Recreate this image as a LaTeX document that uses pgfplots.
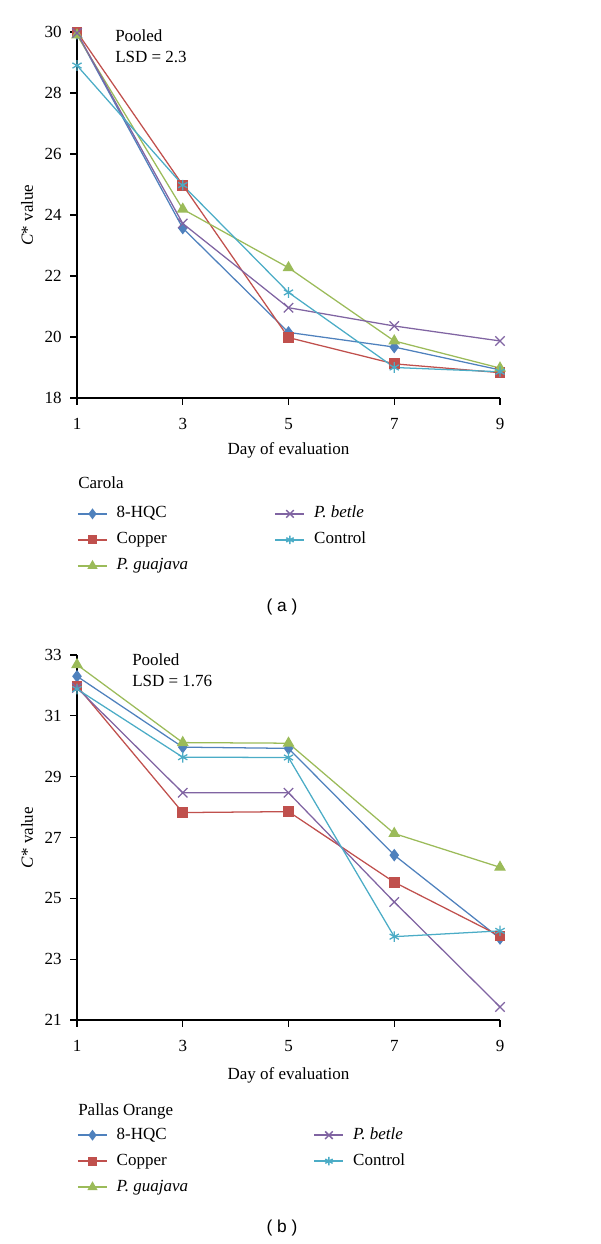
\documentclass[border=0pt]{standalone}
\usepackage{fontspec}
\setmainfont{Liberation Serif}
\newfontfamily\capfont{Liberation Sans}
\usepackage{pgfplots}
\usepackage{pgfplotstable}
\pgfplotsset{compat=1.18}

\definecolor{c1}{HTML}{4F81BD}
\definecolor{c2}{HTML}{C0504D}
\definecolor{c3}{HTML}{9BBB59}
\definecolor{c4}{HTML}{8064A2}
\definecolor{c5}{HTML}{4BACC6}

\pgfplotstableread{
day hqc cu gua bet ctl
1 29.95 30.00 29.90 29.97 28.90
3 23.57 24.98 24.19 23.72 24.98
5 20.15 19.98 22.27 20.96 21.46
7 19.67 19.12 19.87 20.36 19.00
9 18.92 18.83 18.98 19.87 18.86
}\tabA

\pgfplotstableread{
day hqc cu gua bet ctl
1 32.30 31.98 32.68 31.92 31.88
3 29.97 27.82 30.12 28.47 29.64
5 29.93 27.85 30.10 28.47 29.63
7 26.42 25.53 27.13 24.88 23.74
9 23.68 23.76 26.02 21.43 23.93
}\tabB

\newcommand{\fs}{\fontsize{12.75}{15}\selectfont}

\pgfplotsset{
  panel/.style={
    scale only axis, width=317.25pt,
    axis lines=left, axis line style={-, line width=0.9pt, black},
    xmin=1, xmax=9, xtick={1,3,5,7,9},
    tick align=outside, major tick length=5pt,
    tick style={line width=0.9pt, black},
    ticklabel style={font=\fs},
    xticklabel shift=6.5pt,
    yticklabel shift=3pt,
    /pgf/number format/assume math mode=true,
    label style={font=\fs},
    xlabel={Day of evaluation},
    ylabel={\textit{C}* value},
    ylabel style={at={(axis description cs:-0.118,0.5)}, anchor=center},
    legend columns=2,
    legend style={draw=none, fill=none, inner sep=0pt, font=\fs,
      nodes={inner sep=0pt, text height=9pt, text depth=3pt, anchor=west},
      row sep=7.5pt,
      /tikz/every odd column/.append style={column sep=6.75pt},
      anchor=north west},
    legend image code/.code={\draw[mark repeat=2,mark phase=2,#1, line width=1.1pt, every mark/.append style={scale=0.8}]
      plot coordinates {(0pt,0pt)(10.875pt,0pt)(21.75pt,0pt)};},
    clip=false,
  },
  hqc/.style={color=c1, line width=0.95pt, mark=diamond*, mark size=4pt, mark options={solid, fill=c1}},
  cu/.style={color=c2, line width=0.95pt, mark=square*, mark size=3.6pt, mark options={solid, fill=c2}},
  gua/.style={color=c3, line width=0.95pt, mark=triangle*, mark size=4.2pt, mark options={solid, fill=c3}},
  bet/.style={color=c4, line width=0.95pt, mark=x, mark size=5pt, mark options={solid}},
  ctl/.style={color=c5, line width=0.95pt, mark=asterisk, mark size=4pt, mark options={solid}},
}

\begin{document}
\begin{tikzpicture}
\useasboundingbox (0,0) rectangle (450pt,933pt);

% ---------- panel (a) ----------
\begin{axis}[panel,
  at={(57.75pt,634.5pt)}, anchor=south west,
  height=274.5pt, ymin=18, ymax=30, ytick={18,20,...,30},
  xlabel style={at={(axis description cs:0.5,-0.1421)}, anchor=center},
  legend style={at={(axis description cs:0,-0.294)}},
]
\addplot[hqc, forget plot] table[x=day,y=hqc]{\tabA};
\addplot[cu, forget plot] table[x=day,y=cu]{\tabA};
\addplot[gua, forget plot] table[x=day,y=gua]{\tabA};
\addplot[bet, forget plot] table[x=day,y=bet]{\tabA};
\addplot[ctl, forget plot] table[x=day,y=ctl]{\tabA};
\addlegendimage{hqc}\addlegendentry{\makebox[118.5pt][l]{8-HQC}}
\addlegendimage{bet}\addlegendentry{\textit{P. betle}}
\addlegendimage{cu}\addlegendentry{\makebox[118.5pt][l]{Copper}}
\addlegendimage{ctl}\addlegendentry{Control}
\addlegendimage{gua}\addlegendentry{\makebox[118.5pt][l]{\textit{P. guajava}}}
\node[anchor=base west, font=\fs, inner sep=0pt, xshift=28.5pt, yshift=267pt] at (rel axis cs:0,0) {Pooled};
\node[anchor=base west, font=\fs, inner sep=0pt, xshift=28.5pt, yshift=251.25pt] at (rel axis cs:0,0) {LSD = 2.3};
\node[anchor=base west, font=\fs, inner sep=0pt, xshift=0.75pt, yshift=-68.25pt] at (rel axis cs:0,0) {Carola};
\node[anchor=center, font=\capfont\fontsize{13}{15}\selectfont, xshift=153.75pt, yshift=-156.75pt] at (rel axis cs:0,0) {( a )};
\end{axis}

% ---------- panel (b) ----------
\begin{axis}[panel,
  at={(57.75pt,168pt)}, anchor=south west,
  height=273.75pt, ymin=21, ymax=33, ytick={21,23,...,33},
  xlabel style={at={(axis description cs:0.5,-0.153)}, anchor=center},
  legend style={at={(axis description cs:0,-0.293)}},
]
\addplot[hqc, forget plot] table[x=day,y=hqc]{\tabB};
\addplot[cu, forget plot] table[x=day,y=cu]{\tabB};
\addplot[gua, forget plot] table[x=day,y=gua]{\tabB};
\addplot[bet, forget plot] table[x=day,y=bet]{\tabB};
\addplot[ctl, forget plot] table[x=day,y=ctl]{\tabB};
\addlegendimage{hqc}\addlegendentry{\makebox[147.75pt][l]{8-HQC}}
\addlegendimage{bet}\addlegendentry{\textit{P. betle}}
\addlegendimage{cu}\addlegendentry{\makebox[147.75pt][l]{Copper}}
\addlegendimage{ctl}\addlegendentry{Control}
\addlegendimage{gua}\addlegendentry{\makebox[147.75pt][l]{\textit{P. guajava}}}
\node[anchor=base west, font=\fs, inner sep=0pt, xshift=41.25pt, yshift=265.5pt] at (rel axis cs:0,0) {Pooled};
\node[anchor=base west, font=\fs, inner sep=0pt, xshift=41.25pt, yshift=249.75pt] at (rel axis cs:0,0) {LSD = 1.76};
\node[anchor=base west, font=\fs, inner sep=0pt, xshift=0.75pt, yshift=-71.25pt] at (rel axis cs:0,0) {Pallas Orange};
\node[anchor=center, font=\capfont\fontsize{13}{15}\selectfont, xshift=153.75pt, yshift=-156pt] at (rel axis cs:0,0) {( b )};
\end{axis}
\end{tikzpicture}
\end{document}
